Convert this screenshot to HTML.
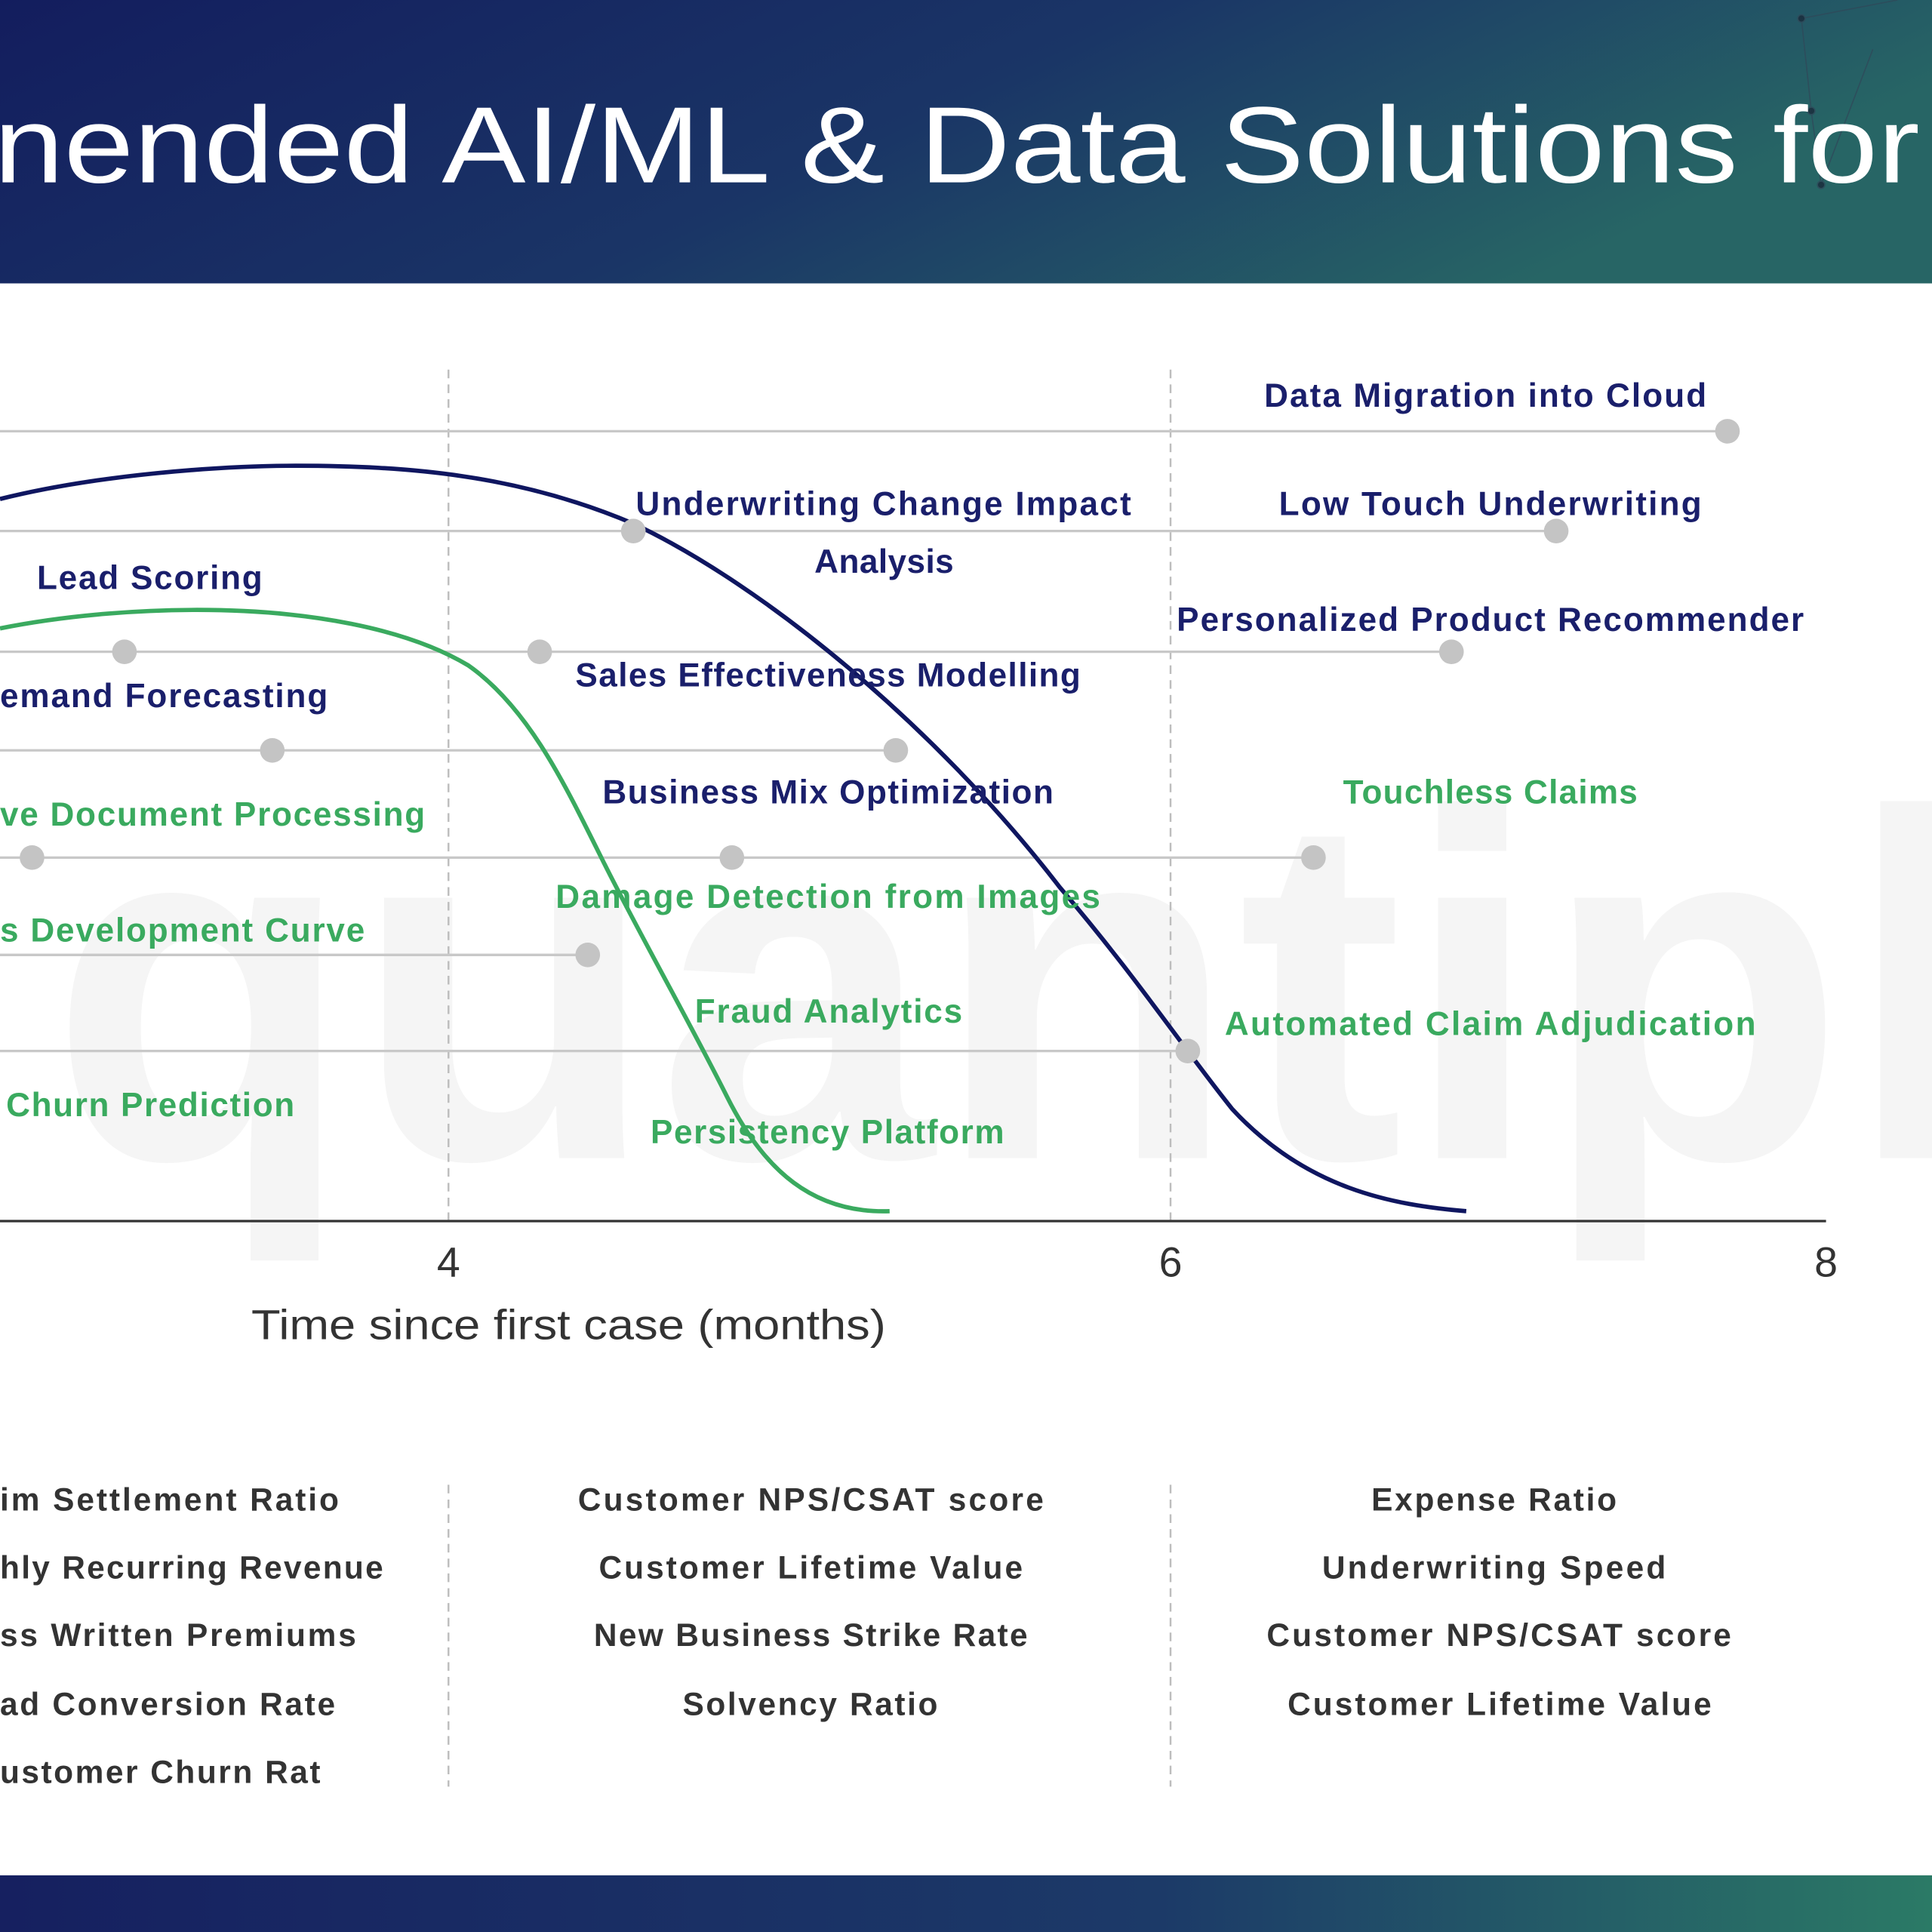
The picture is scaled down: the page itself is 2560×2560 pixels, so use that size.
<!DOCTYPE html>
<html><head><meta charset="utf-8"><style>html,body{margin:0;padding:0;background:#fff}svg{display:block}</style></head>
<body>
<svg width="2560" height="2560" viewBox="0 0 1568 1568" xmlns="http://www.w3.org/2000/svg" font-family="Liberation Sans, sans-serif">
<defs>
<linearGradient id="g" x1="0" y1="0" x2="1" y2="0.3">
<stop offset="0" stop-color="#131d5e"/><stop offset="0.55" stop-color="#1a3566"/><stop offset="1" stop-color="#276565"/></linearGradient>
<linearGradient id="g2" x1="0" y1="0" x2="1" y2="0">
<stop offset="0" stop-color="#162060"/><stop offset="0.6" stop-color="#1c3a68"/><stop offset="1" stop-color="#2b7a66"/></linearGradient>
</defs>
<rect x="0" y="0" width="1568" height="230" fill="url(#g)"/>
<g stroke="#2f4a5a" stroke-width="1" fill="#1a2a3a" opacity="0.8">
<line x1="1462" y1="15" x2="1540" y2="0"/><line x1="1462" y1="15" x2="1470" y2="90"/><line x1="1470" y1="90" x2="1478" y2="150"/><line x1="1520" y1="40" x2="1478" y2="150"/>
<circle cx="1462" cy="15" r="3"/><circle cx="1470" cy="90" r="3"/><circle cx="1478" cy="150" r="3"/>
</g>
<text x="-5" y="148" font-size="88" fill="#fff" textLength="1563" lengthAdjust="spacingAndGlyphs">nended AI/ML &amp; Data Solutions for</text>
<rect x="0" y="1522" width="1568" height="46" fill="url(#g2)"/>

<text x="40" y="940" font-size="400" font-weight="bold" fill="#f5f5f5" textLength="1570" lengthAdjust="spacingAndGlyphs">quantipl</text>

<g stroke="#bdbdbd" stroke-width="1.5" stroke-dasharray="7,5">
<line x1="364" y1="300" x2="364" y2="990"/><line x1="950" y1="300" x2="950" y2="990"/>
<line x1="364" y1="1205" x2="364" y2="1450"/><line x1="950" y1="1205" x2="950" y2="1450"/>
</g>
<g stroke="#c8c8c8" stroke-width="2">
<line x1="0" y1="350" x2="1402" y2="350"/>
<line x1="0" y1="431" x2="1263" y2="431"/>
<line x1="0" y1="529" x2="1178" y2="529"/>
<line x1="0" y1="609" x2="727" y2="609"/>
<line x1="0" y1="696" x2="1066" y2="696"/>
<line x1="0" y1="775" x2="477" y2="775"/>
<line x1="0" y1="853" x2="964" y2="853"/>
</g>
<line x1="0" y1="991" x2="1482" y2="991" stroke="#333" stroke-width="2"/>
<path d="M0,405 C80,385 180,378 240,378 C330,378 420,385 514,425 C620,475 760,590 860,720 C920,790 960,850 1000,900 C1060,965 1130,978 1190,983" fill="none" stroke="#0f1660" stroke-width="3.5"/>
<path d="M0,510 C60,498 120,495 160,495 C250,495 330,510 380,540 C430,575 460,640 490,700 C520,760 560,830 590,890 C620,950 660,985 722,983" fill="none" stroke="#3aaa5f" stroke-width="3.5"/>
<g fill="#c4c4c4">
<circle cx="1402" cy="350" r="10"/><circle cx="514" cy="431" r="10"/><circle cx="1263" cy="431" r="10"/>
<circle cx="101" cy="529" r="10"/><circle cx="438" cy="529" r="10"/><circle cx="1178" cy="529" r="10"/>
<circle cx="221" cy="609" r="10"/><circle cx="727" cy="609" r="10"/>
<circle cx="26" cy="696" r="10"/><circle cx="594" cy="696" r="10"/><circle cx="1066" cy="696" r="10"/>
<circle cx="477" cy="775" r="10"/><circle cx="964" cy="853" r="10"/>
</g>
<g font-size="27" font-weight="bold" fill="#1a1f6b" lengthAdjust="spacingAndGlyphs">
<text x="1026" y="330" textLength="359">Data Migration into Cloud</text>
<text x="516" y="418" textLength="402">Underwriting Change Impact</text>
<text x="661" y="465" textLength="113">Analysis</text>
<text x="1038" y="418" textLength="343">Low Touch Underwriting</text>
<text x="30" y="478" textLength="183">Lead Scoring</text>
<text x="955" y="512" textLength="509">Personalized Product Recommender</text>
<text x="467" y="557" textLength="410">Sales Effectiveness Modelling</text>
<text x="0" y="574" textLength="266">emand Forecasting</text>
<text x="489" y="652" textLength="366">Business Mix Optimization</text>
</g>
<g font-size="27" font-weight="bold" fill="#3aaa5f" lengthAdjust="spacingAndGlyphs">
<text x="0" y="670" textLength="345">ve Document Processing</text>
<text x="1090" y="652" textLength="239">Touchless Claims</text>
<text x="451" y="737" textLength="442">Damage Detection from Images</text>
<text x="0" y="764" textLength="296">s Development Curve</text>
<text x="564" y="830" textLength="217">Fraud Analytics</text>
<text x="994" y="840" textLength="431">Automated Claim Adjudication</text>
<text x="5" y="906" textLength="234">Churn Prediction</text>
<text x="528" y="928" textLength="287">Persistency Platform</text>
</g>
<g font-size="34" fill="#333" text-anchor="middle">
<text x="364" y="1036">4</text><text x="950" y="1036">6</text><text x="1482" y="1036">8</text>
</g>
<text x="204" y="1087" font-size="34" fill="#333" textLength="515" lengthAdjust="spacingAndGlyphs">Time since first case (months)</text>
<g font-size="26" font-weight="bold" fill="#333" lengthAdjust="spacingAndGlyphs">
<text x="0" y="1226" textLength="275">im Settlement Ratio</text>
<text x="0" y="1281" textLength="311">hly Recurring Revenue</text>
<text x="0" y="1336" textLength="289">ss Written Premiums</text>
<text x="0" y="1392" textLength="272">ad Conversion Rate</text>
<text x="0" y="1447" textLength="260">ustomer Churn Rat</text>
<text x="469" y="1226" textLength="378">Customer NPS/CSAT score</text>
<text x="486" y="1281" textLength="344">Customer Lifetime Value</text>
<text x="482" y="1336" textLength="352">New Business Strike Rate</text>
<text x="554" y="1392" textLength="207">Solvency Ratio</text>
<text x="1113" y="1226" textLength="199">Expense Ratio</text>
<text x="1073" y="1281" textLength="279">Underwriting Speed</text>
<text x="1028" y="1336" textLength="377">Customer NPS/CSAT score</text>
<text x="1045" y="1392" textLength="344">Customer Lifetime Value</text>
</g>
</svg>
</body></html>
